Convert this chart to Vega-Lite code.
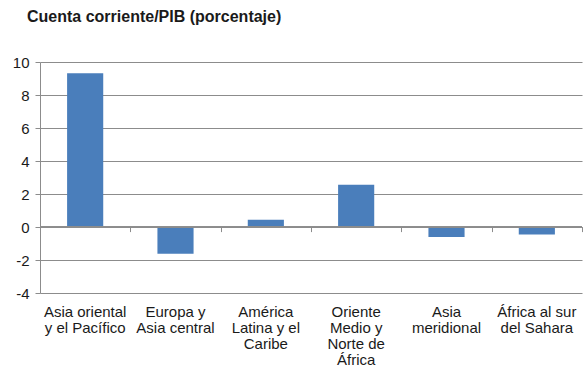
{
  "$schema": "https://vega.github.io/schema/vega-lite/v6.json",
  "autosize": "none",
  "width": 542,
  "height": 231,
  "padding": {"left": 40, "top": 62, "right": 2, "bottom": 73},
  "background": "white",
  "config": {
    "font": "Liberation Sans",
    "view": {"stroke": null},
    "axis": {"labelFont": "Liberation Sans", "labelColor": "#1a1a1a", "labelFontSize": 15}
  },
  "title": {
    "text": "Cuenta corriente/PIB (porcentaje)",
    "anchor": "start",
    "frame": "group",
    "font": "Liberation Sans",
    "fontSize": 16,
    "fontWeight": "bold",
    "color": "#1a1a1a",
    "dx": -13,
    "offset": 30
  },
  "data": {
    "values": [
      {"region": "Asia oriental y el Pacífico", "valor": 9.32},
      {"region": "Europa y Asia central", "valor": -1.62},
      {"region": "América Latina y el Caribe", "valor": 0.44},
      {"region": "Oriente Medio y Norte de África", "valor": 2.56},
      {"region": "Asia meridional", "valor": -0.6},
      {"region": "África al sur del Sahara", "valor": -0.45}
    ]
  },
  "resolve": {"axis": {"x": "independent"}},
  "layer": [
    {
      "mark": {"type": "bar", "color": "#4a7ebb", "width": {"band": 0.4}},
      "encoding": {
        "x": {
          "field": "region",
          "type": "nominal",
          "sort": null,
          "scale": {"paddingInner": 0, "paddingOuter": 0},
          "axis": {
            "title": null,
            "orient": "bottom",
            "domain": false,
            "ticks": false,
            "labelAngle": 0,
            "labelPadding": 11,
            "labelLineHeight": 16,
            "labelLimit": 0,
            "labelBaseline": "top",
            "labelExpr": "({'Asia oriental y el Pacífico': ['Asia oriental', 'y el Pacífico'], 'Europa y Asia central': ['Europa y', 'Asia central'], 'América Latina y el Caribe': ['América', 'Latina y el', 'Caribe'], 'Oriente Medio y Norte de África': ['Oriente', 'Medio y', 'Norte de', 'África'], 'Asia meridional': ['Asia', 'meridional'], 'África al sur del Sahara': ['África al sur', 'del Sahara']})[datum.label]"
          }
        },
        "y": {
          "field": "valor",
          "type": "quantitative",
          "scale": {"domain": [-4, 10], "nice": false},
          "axis": {
            "title": null,
            "values": [-4, -2, 0, 2, 4, 6, 8, 10],
            "tickCount": 20,
            "labelExpr": "'' + datum.value",
            "labelOverlap": false,
            "labelFlush": false,
            "grid": true,
            "gridColor": "#8c8c8c",
            "gridWidth": 1,
            "domain": true,
            "domainColor": "#8c8c8c",
            "tickColor": "#8c8c8c",
            "tickSize": 5,
            "labelPadding": 6
          }
        }
      }
    },
    {
      "mark": {"type": "point", "opacity": 0},
      "encoding": {
        "x": {
          "field": "region",
          "type": "nominal",
          "sort": null,
          "axis": {
            "title": null,
            "orient": "bottom",
            "offset": -66.4,
            "labels": false,
            "domain": false,
            "ticks": true,
            "tickBand": "extent",
            "tickSize": 5,
            "tickColor": "#8c8c8c",
            "grid": false
          }
        }
      }
    },
    {
      "mark": {"type": "rule", "color": "#8c8c8c", "strokeWidth": 1},
      "encoding": {"y": {"datum": 0}}
    }
  ]
}
